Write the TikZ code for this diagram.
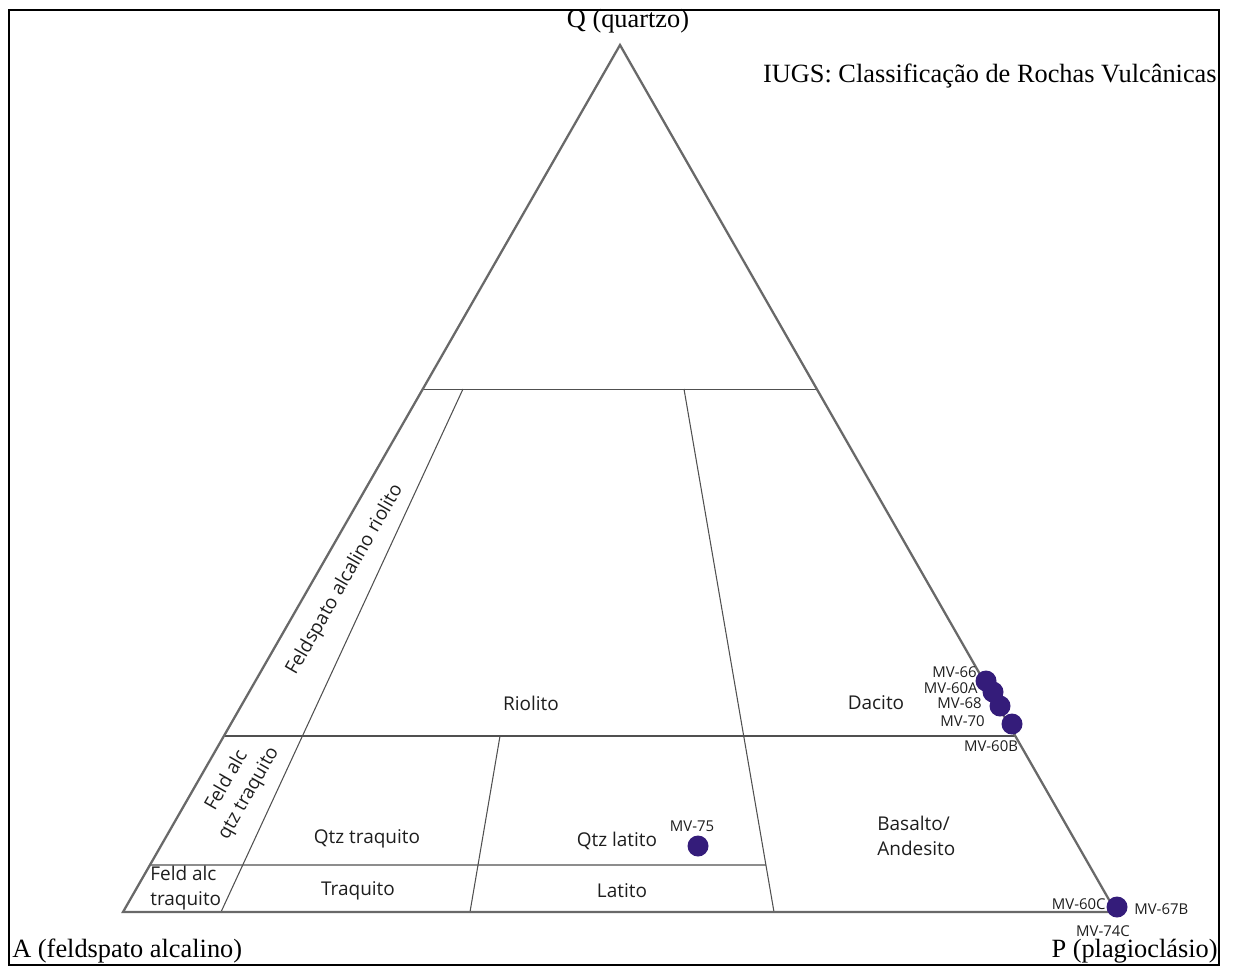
\documentclass[tikz,border=0pt]{standalone}
\usepackage{fontspec}
\usetikzlibrary{calc}
\setmainfont{Liberation Serif}
\newfontfamily\labfont{Open Sans}
\definecolor{dotc}{RGB}{52,28,122}
\definecolor{edgec}{RGB}{105,105,105}
\definecolor{linec}{RGB}{80,80,80}
\definecolor{txtc}{RGB}{30,30,30}
\tikzset{
  corner/.style={font=\fontsize{15}{17}\selectfont, text=black, inner sep=0pt},
  region/.style={font=\labfont\fontsize{10.8}{14.5}\selectfont, text=txtc, inner sep=0pt},
  sample/.style={font=\labfont\fontsize{8.5}{10}\selectfont, text=txtc, inner sep=0pt},
  dot/.style={circle, fill=dotc, minimum size=21*0.02cm, inner sep=0pt},
  edge/.style={draw=edgec, line width=1.3pt},
  divline/.style={draw=linec, line width=0.6pt},
}
\begin{document}
\begin{tikzpicture}[x=0.02cm,y=-0.02cm]
\useasboundingbox (0,0) rectangle (1234,967);
\draw[black, line width=1.6pt] (9,10) rectangle (1219,965);
% triangle vertices
\coordinate (Q) at (620,45);
\coordinate (A) at (123,912);
\coordinate (P) at (1116,912);
% division points on edges
\coordinate (L90) at ($(Q)!0.3968!(A)$);
\coordinate (R90) at ($(Q)!0.3968!(P)$);
\coordinate (L60) at ($(Q)!0.797!(A)$);
\coordinate (R60) at ($(Q)!0.797!(P)$);
\coordinate (L20) at ($(Q)!0.9458!(A)$);
\coordinate (r1t) at (463,389);
\coordinate (r1b) at (221,912);
\coordinate (r2t) at (684,389);
\coordinate (r2b) at (774,912);
\coordinate (r2m) at (766,865);
\coordinate (r3t) at (500,736);
\coordinate (r3b) at (470,912);
% lines
\draw[divline] (L90) -- (R90);
\draw[divline] (L60) -- (R60);
\draw[divline] (L20) -- (r2m);
\draw[divline] (r1t) -- (r1b);
\draw[divline] (r2t) -- (r2b);
\draw[divline] (r3t) -- (r3b);
\draw[edge] (Q) -- (A) -- (P) -- cycle;
% corner labels
\node[corner] (lq) at (628,21) {Q (quartzo)};
\node[corner, anchor=west] (la) at (12,951) {A (feldspato alcalino)};
\node[corner, anchor=east] (lp) at (1218,951) {P (plagioclásio)};
\node[corner, anchor=east] (title) at (1217,76) {IUGS: Classificação de Rochas Vulcânicas};
% region labels
\node[region] (riolito) at (531,703) {Riolito};
\node[region] (dacito) at (876,703) {Dacito};
\node[region] (qtztraq) at (367,839) {Qtz traquito};
\node[region] (qtzlat) at (617,841) {Qtz latito};
\node[region, align=left, anchor=west] (basalto) at (877,836) {Basalto/\\Andesito};
\node[region] (traq) at (358,891) {Traquito};
\node[region] (latito) at (622,891) {Latito};
\node[region, align=left, anchor=west] (feldtraq) at (150,888) {Feld alc\\traquito};
\node[region, rotate=60.2] (feldriol) at (345,580) {Feldspato alcalino riolito};
\node[region, rotate=60.2, align=center] (feldqtz) at (238,787) {Feld alc\\qtz traquito};
% samples
\node[dot] (d66) at (986,681) {};
\node[dot] (d60a) at (993,692) {};
\node[dot] (d68) at (1000,706) {};
\node[dot] (d70) at (1012,724) {};
\node[dot] (d75) at (698,846) {};
\node[dot] (d60c) at (1117,907) {};
\node[sample, anchor=east] (t66) at (977,672) {MV-66};
\node[sample, anchor=east] (t60a) at (978,688) {MV-60A};
\node[sample, anchor=east] (t68) at (982,703) {MV-68};
\node[sample, anchor=east] (t70) at (985,721) {MV-70};
\node[sample] (t60b) at (991,746) {MV-60B};
\node[sample] (t75) at (692,826) {MV-75};
\node[sample, anchor=east] (t60c) at (1106,904) {MV-60C};
\node[sample, anchor=west] (t67b) at (1134,909) {MV-67B};
\node[sample] (t74c) at (1103,931) {MV-74C};
\end{tikzpicture}
\end{document}
